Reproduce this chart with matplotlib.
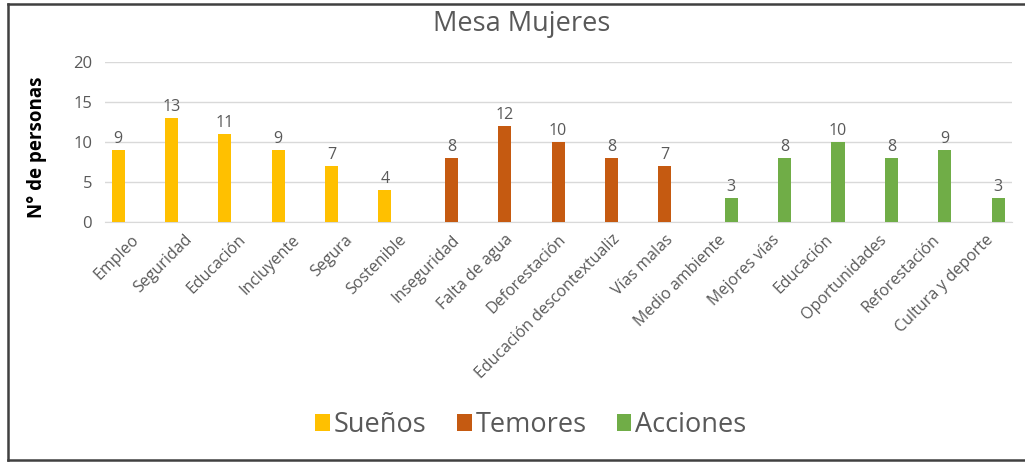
import matplotlib.pyplot as plt
import numpy as np
from matplotlib.lines import Line2D

# datos de la mesa de mujeres
labels = ['Empleo', 'Seguridad', 'Educación', 'Incluyente', 'Segura', 'Sostenible',
          'Inseguridad', 'Falta de agua', 'Deforestación', 'Educación descontextualiz',
          'Vías malas',
          'Medio ambiente', 'Mejores vías', 'Educación', 'Oportunidades',
          'Reforestación', 'Cultura y deporte']
suenos = [9, 13, 11, 9, 7, 4]
temores = [8, 12, 10, 8, 7]
acciones = [3, 8, 10, 8, 9, 3]

series = ['Sueños', 'Temores', 'Acciones']
colors = ['#FFC000', '#C55A11', '#70AD47']
gray = '#595959'

plt.rcParams['font.family'] = ['Open Sans', 'DejaVu Sans']

fig = plt.figure(figsize=(10.25, 4.62), dpi=100)
ax = fig.add_axes([0.102, 0.5195, 0.885, 0.3463])

index = np.arange(len(labels))
bw = 0.245
groups = [suenos, temores, acciones]
start = 0
for k in range(3):
    vals = groups[k]
    idx = index[start:start + len(vals)]
    pos = idx + (k - 1) * bw
    ax.bar(pos, vals, width=bw, color=colors[k], label=series[k], zorder=3)
    for p, v in zip(pos, vals):
        ax.text(p, v + 0.35, str(v), ha='center', va='bottom', fontsize=11.5, color=gray)
    start += len(vals)

ax.set_xlim(-0.5, len(labels) - 0.5)
ax.set_ylim(0, 20)
ax.set_yticks(np.arange(0, 21, 5))
ax.grid(axis='y', color='#d9d9d9', lw=1, zorder=0)
for s in ['top', 'right', 'left']:
    ax.spines[s].set_visible(False)
ax.spines['bottom'].set_color('#d9d9d9')
ax.tick_params(axis='both', length=0, colors=gray)
ax.tick_params(axis='y', labelsize=12, pad=9)
ax.set_xticks(index)
ax.set_xticklabels(labels, rotation=45, ha='right', rotation_mode='anchor')
ax.tick_params(axis='x', labelsize=11.5, pad=7)
ax.set_ylabel('N° de personas', fontsize=13.5, fontweight='bold', color='black')
ax.yaxis.set_label_coords(-0.063, 0.47)

fig.text(0.509, 0.948, 'Mesa Mujeres', ha='center', va='center', fontsize=19.5, color=gray)

leg = fig.legend(loc='center', bbox_to_anchor=(0.518, 0.08), ncol=3, frameon=False,
                 fontsize=19.5, handlelength=0.55, handleheight=0.55, handletextpad=0.15,
                 columnspacing=1.1)
for t in leg.get_texts():
    t.set_color(gray)

# marco del grafico (sin borde derecho, como en la captura)
x0, y0, y1 = 0.008, 0.004, 0.992
for xs, ys in [([x0, 1.0], [y1, y1]), ([x0, x0], [y0, y1]), ([x0, 1.0], [y0, y0])]:
    fig.add_artist(Line2D(xs, ys, transform=fig.transFigure, color='#404040', lw=1.8))

plt.savefig('out.png', dpi=100)
